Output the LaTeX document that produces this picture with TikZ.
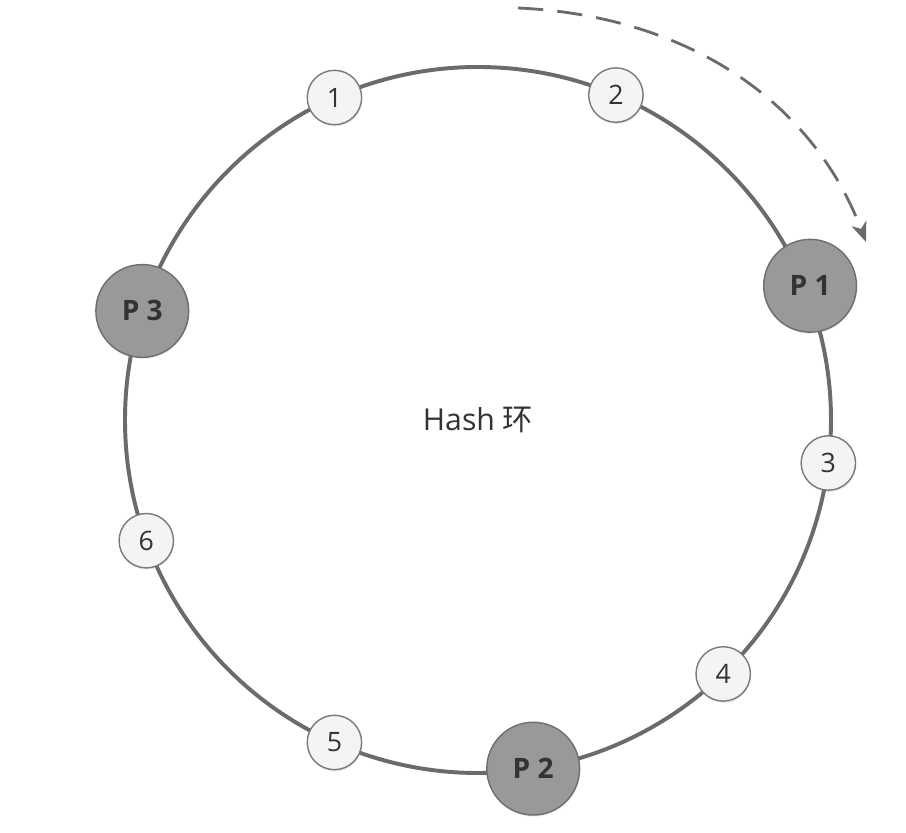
\documentclass[tikz,border=0pt]{standalone}
\usepackage{fontspec}
\setmainfont{Open Sans}
\newfontfamily\cjk{Noto Sans CJK SC}
\usetikzlibrary{arrows.meta,shadows}
\definecolor{ring}{HTML}{6B6B6B}
\definecolor{ink}{HTML}{333333}
\definecolor{keyedge}{HTML}{7A7A7A}
\definecolor{keyfill}{HTML}{F4F4F4}
\definecolor{srvfill}{HTML}{999999}
\definecolor{srvedge}{HTML}{6E6E6E}
\tikzset{
  every node/.style={text=ink, inner sep=0pt, outer sep=0pt},
  hashring/.style={draw=ring, line width=2.8pt, circle, minimum size=17.65cm,
                   font=\fontsize{21.5}{26}\selectfont},
  key/.style={draw=keyedge, line width=1pt, circle, fill=keyfill, minimum size=1.36cm,
              font=\fontsize{19}{22}\selectfont,
              drop shadow={opacity=0.18, shadow xshift=0.4pt, shadow yshift=-1.2pt}},
  srv/.style={draw=srvedge, line width=1pt, circle, fill=srvfill, minimum size=2.32cm,
              font=\fontsize{20}{24}\selectfont\bfseries,
              drop shadow={opacity=0.15, shadow xshift=0.4pt, shadow yshift=-1.2pt}},
  walk/.style={draw=ring, line width=2pt, dash pattern=on 18pt off 10pt,
               -{Stealth[length=14pt,width=11pt,inset=4pt]}},
}
\begin{document}
\begin{tikzpicture}
\useasboundingbox (0,0) rectangle (22.65,20.8);
% ---- ring -------------------------------------------------------------------
\node[hashring] (ring) at (11.95,10.3) {Hash {\cjk 环}};

% ---- keys on the ring -------------------------------------------------------
\node[key] (k1) at (ring.114)  {1};
\node[key] (k2) at (ring.67)   {2};
\node[key] (k3) at (ring.-7)   {3};
\node[key] (k4) at (ring.-46)  {4};
\node[key] (k5) at (ring.-114) {5};
\node[key] (k6) at (ring.-160) {6};

% ---- servers on the ring ----------------------------------------------------
\node[srv] (p1) at ([shift={(0.12,0.05)}]ring.22) {P 1};
\node[srv] (p2) at (ring.-81.5) {P 2};
\node[srv] (p3) at (ring.162)   {P 3};

% ---- direction of lookup ----------------------------------------------------
\coordinate (walkA) at (12.95,20.6);
\coordinate (walkB) at (21.65,14.75);
\draw[walk] (walkA) .. controls (17.0,20.42) and (20.25,18.42) .. (walkB);
\end{tikzpicture}
\end{document}
